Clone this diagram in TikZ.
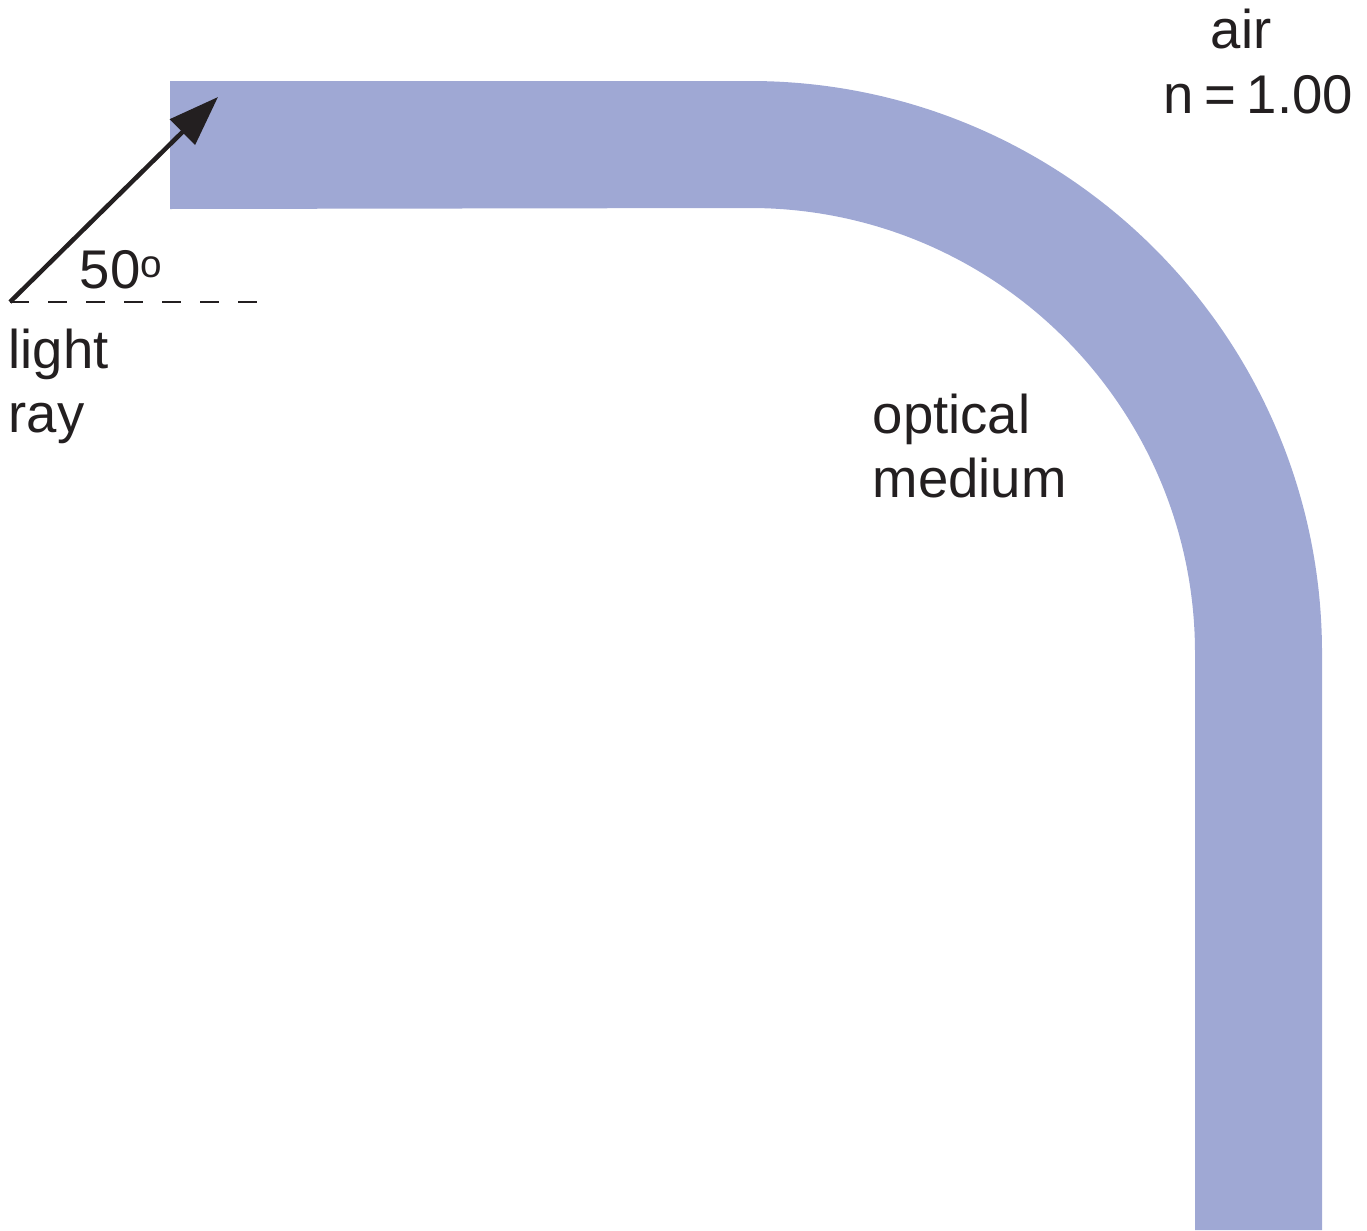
\documentclass[tikz,border=0pt]{standalone}
\usepackage{fontspec}
\setmainfont{Liberation Sans}
\usepackage{xcolor}
\usetikzlibrary{arrows.meta}
\definecolor{tubeblue}{RGB}{159,168,212}
\definecolor{inkblack}{RGB}{35,31,32}

\begin{document}
\begin{tikzpicture}[x=0.01cm,y=-0.01cm,
  lbl/.style={inner sep=0pt,anchor=base west,align=left,text=inkblack,font=\fontsize{15.5}{18.2}\selectfont},
  ray/.style={line width=0.045cm,inkblack,-{Triangle[length=0.5cm,width=0.35cm]}},
  normalline/.style={line width=0.025cm,inkblack,dash pattern=on 0.19cm off 0.19cm}]
\useasboundingbox (0,0) rectangle (1367,1230);
% bent optical medium
\fill[tubeblue] (170,81) -- (750,81) arc[start angle=270,end angle=360,radius=572]
  -- (1322,1230) -- (1195,1230) -- (1195,653) arc[start angle=0,end angle=-90,radius=445]
  -- (170,209) -- cycle;
% incoming ray and normal
\coordinate (raystart) at (10,302);
\coordinate (raytip) at (218,97);
\coordinate (dashend) at (265,302);
\draw[normalline] (raystart) -- (dashend);
\draw[ray] (raystart) -- (raytip);
% labels (base = last line)
\node[lbl] (angle) at (79,288) {50{\fontsize{11}{11}\selectfont\raisebox{0.1cm}{o}}};
\node[lbl] (light) at (8,432) {light\\ray};
\node[lbl] (medium) at (872,497) {optical\\medium};
\node[lbl,anchor=base,align=center] (air) at (1258,113) {air\kern0.34cm\\n\kern0.2em=\kern0.2em1.00};
\end{tikzpicture}
\end{document}
